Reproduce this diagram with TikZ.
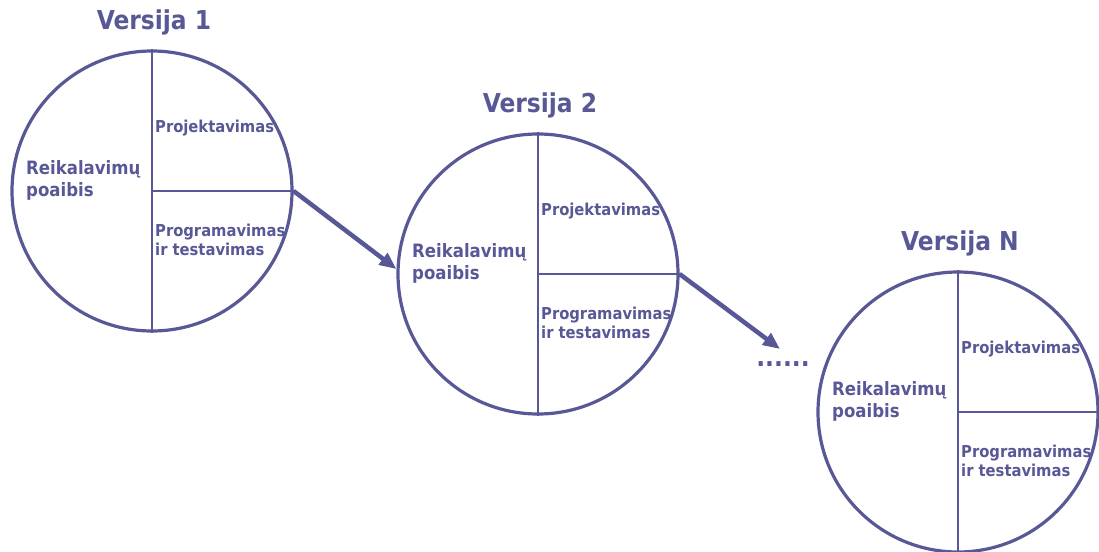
\documentclass[tikz,border=0pt]{standalone}
\usepackage{fontspec}
\setmainfont{DejaVu Sans Condensed}
\usetikzlibrary{arrows.meta}
\definecolor{ink}{RGB}{88,88,150}
\begin{document}
\begin{tikzpicture}[x=1pt,y=-1pt,
  ring/.style={circle,draw=ink,line width=3.2pt,minimum size=280pt,inner sep=0pt},
  divider/.style={draw=ink,line width=2.8pt},
  title/.style={text=ink,font=\fontsize{26}{30}\selectfont\bfseries},
  lbl/.style={text=ink,font=\fontsize{16.4}{19}\selectfont\bfseries,align=left,anchor=west,inner sep=0pt},
  lblwide/.style={lbl,font=\fontsize{18.4}{22}\selectfont\bfseries},
  flow/.style={draw=ink,line width=4.5pt,-{Triangle[length=17pt,width=14pt]}}]
\useasboundingbox (0,0) rectangle (1099,551);

% one ring per version: split into three parts, with a title above
\foreach \n/\cx/\cy/\t in {c1/152/191/1, c2/538/274/2, c3/958/412/N} {
  \node[ring] (\n) at (\cx,\cy) {};
  \draw[divider] (\n.north) -- (\n.south);
  \draw[divider] (\n.center) -- (\n.east);
  \node[title] (\n-title) at (\cx+2,\cy-169) {Versija \t};
  \node[lbl] (\n-design) at (\cx+3,\cy-63) {Projektavimas};
  \node[lblwide] (\n-req) at (\cx-126,\cy-11) {Reikalavimų\\poaibis};
  \node[lbl] (\n-code) at (\cx+3,\cy+49) {Programavimas\\ir testavimas};
}

\node[title,inner sep=0pt] (dots) at (783,364) {......};
\coordinate (gap) at (780,349);

\draw[flow] (c1.east) -- (c2.178);
\draw[flow] (c2.east) -- (gap);
\end{tikzpicture}
\end{document}
